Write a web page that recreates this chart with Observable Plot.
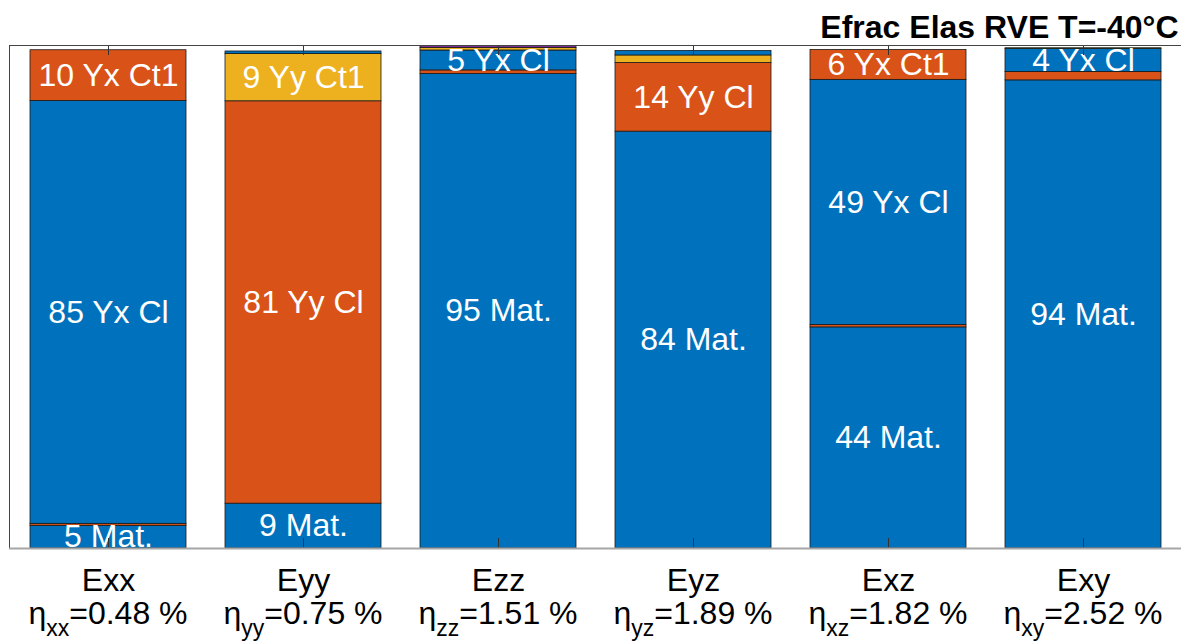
<!DOCTYPE html>
<html><head><meta charset="utf-8">
<script src="https://cdn.jsdelivr.net/npm/d3@7"></script>
<script src="https://cdn.jsdelivr.net/npm/@observablehq/plot@0.6"></script>
<style>body{margin:0;background:#fff}</style>
</head><body><div id="chart"></div>
<script>
const title = "Efrac Elas RVE T=-40°C";
const categories = ["Exx", "Eyy", "Ezz", "Eyz", "Exz", "Exy"];
const etaSubscripts = ["xx", "yy", "zz", "yz", "xz", "xy"];
const etaValues = ["0.48", "0.75", "1.51", "1.89", "1.82", "2.52"];

// stacked segments, bottom to top within each bar
const segCategory = ["Exx","Exx","Exx","Exx",
                     "Eyy","Eyy","Eyy","Eyy",
                     "Ezz","Ezz","Ezz","Ezz","Ezz",
                     "Eyz","Eyz","Eyz","Eyz",
                     "Exz","Exz","Exz","Exz",
                     "Exy","Exy","Exy","Exy"];
const segValue = [4.55, 0.4, 84.9, 10.2,
                  9.0, 80.8, 9.5, 0.5,
                  95.3, 0.7, 4.0, 0.5, 0.4,
                  83.7, 13.8, 1.5, 0.9,
                  44.4, 0.5, 49.2, 6.0,
                  94.0, 1.7, 4.6, 0.15];
const segColor = ["#0072BD","#D95319","#0072BD","#D95319",
                  "#0072BD","#D95319","#EDB120","#0072BD",
                  "#0072BD","#D95319","#0072BD","#EDB120","#7E2F8E",
                  "#0072BD","#D95319","#EDB120","#0072BD",
                  "#0072BD","#D95319","#0072BD","#D95319",
                  "#0072BD","#D95319","#0072BD","#77AC30"];
const segLabel = ["5 Mat.", "", "85 Yx Cl", "10 Yx Ct1",
                  "9 Mat.", "81 Yy Cl", "9 Yy Ct1", "",
                  "95 Mat.", "", "5 Yx Cl", "", "",
                  "84 Mat.", "14 Yy Cl", "", "",
                  "44 Mat.", "", "49 Yx Cl", "6 Yx Ct1",
                  "94 Mat.", "", "4 Yx Cl", ""];

const cum = {};
const rows = segValue.map((v, i) => {
  const c = segCategory[i];
  const y1 = cum[c] || 0;
  cum[c] = y1 + v;
  return {cat: c, y1, y2: y1 + v, color: segColor[i], label: segLabel[i]};
});

const font = "'Liberation Sans', Arial, Helvetica, sans-serif";
const frameH = 643 - 45 - 95;

const chart = Plot.plot({
  width: 1181, height: 643,
  marginTop: 45, marginBottom: 95, marginLeft: 9, marginRight: 0,
  x: {domain: categories, paddingInner: 0.2, paddingOuter: 0.1, axis: null},
  y: {domain: [0, 101], axis: null},
  color: {type: "identity"},
  style: {fontFamily: font, background: "white", overflow: "visible"},
  marks: [
    Plot.barY(rows, {x: "cat", y1: "y1", y2: "y2", fill: "color", stroke: "#1a1a1a", strokeWidth: 0.8}),
    Plot.text(rows.filter(d => d.label), {x: "cat", y: d => (d.y1 + d.y2) / 2, text: "label", fill: "white", fontSize: 32, lineAnchor: "middle"}),
    Plot.ruleX(categories, {x: d => d, insetBottom: frameH - 10, stroke: "#333", strokeWidth: 1}),
    Plot.ruleX(categories, {x: d => d, insetTop: frameH - 10, stroke: "#333", strokeWidth: 1}),
    Plot.frame({stroke: "#444", strokeWidth: 1}),
    Plot.ruleY([0], {stroke: "#a6a6a6", strokeWidth: 2}),
    Plot.text(categories, {x: d => d, frameAnchor: "bottom", lineAnchor: "middle", dy: 32, fontSize: 32, fill: "black"}),
    Plot.text([title], {frameAnchor: "top-right", lineAnchor: "bottom", dx: -3, dy: -8, fontSize: 32, fontWeight: "bold", textAnchor: "end", fill: "black"})
  ]
});

// second line of x labels with subscripts
const xs = chart.scale("x");
const svg = d3.select(chart);
categories.forEach((c, i) => {
  const cx = xs.apply(c) + xs.bandwidth / 2;
  const t = svg.append("text")
    .attr("x", cx).attr("y", 624)
    .attr("text-anchor", "middle")
    .attr("font-family", font)
    .attr("font-size", 32)
    .attr("fill", "black");
  t.append("tspan").text("η");
  t.append("tspan").attr("font-size", 23).attr("dy", 12).text(etaSubscripts[i]);
  t.append("tspan").attr("dy", -12).text("=" + etaValues[i] + " %");
});

document.getElementById("chart").appendChild(chart);
</script>
</body></html>
